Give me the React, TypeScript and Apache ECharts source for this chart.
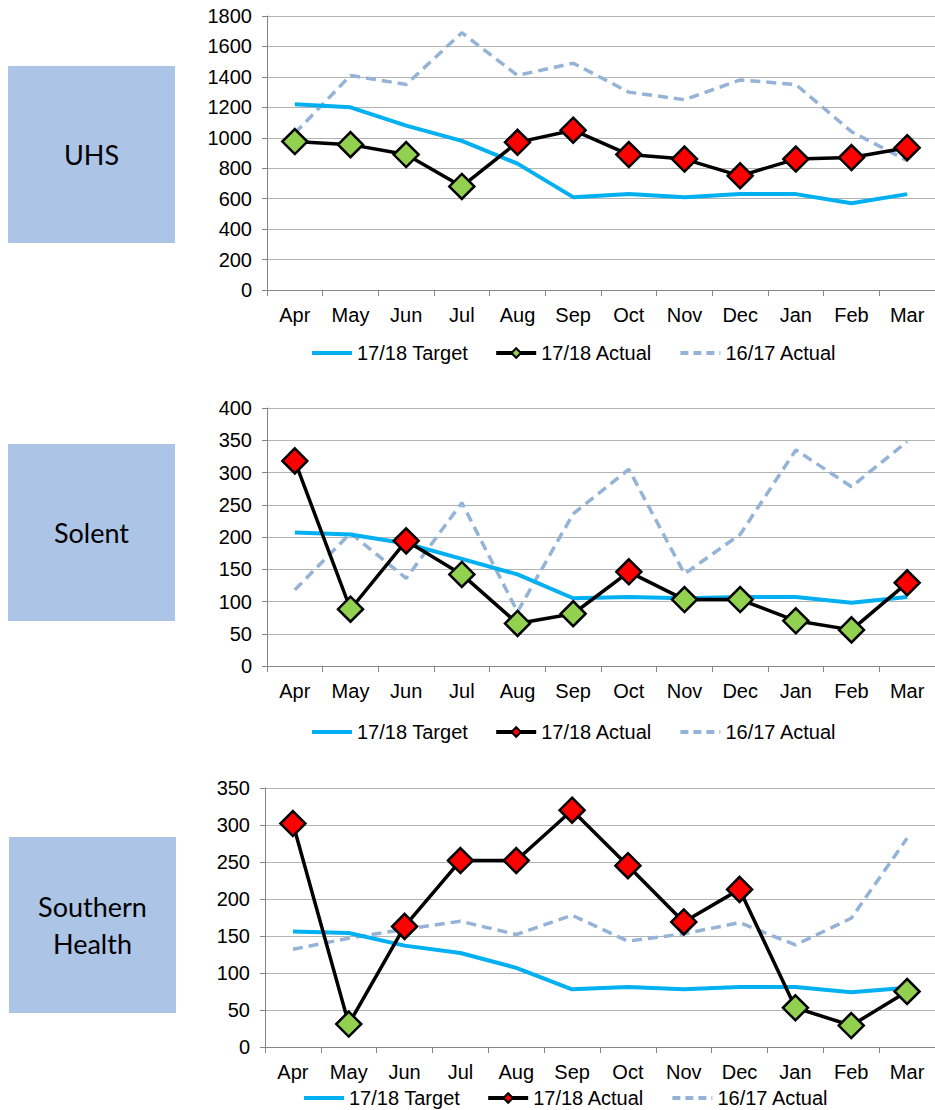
import React, { useEffect, useRef } from "react";
import * as echarts from "echarts";

const months = ["Apr", "May", "Jun", "Jul", "Aug", "Sep", "Oct", "Nov", "Dec", "Jan", "Feb", "Mar"];
const seriesNames = ["17/18 Target", "17/18 Actual", "16/17 Actual"];

const uhsTarget = [1220, 1200, 1080, 980, 830, 610, 630, 610, 630, 630, 570, 630];
const uhsActual = [975, 955, 890, 680, 970, 1050, 890, 860, 750, 860, 870, 935];
const uhsPrev = [1030, 1410, 1350, 1690, 1410, 1490, 1300, 1250, 1380, 1350, 1040, 850];

const solentTarget = [207, 204, 190, 166, 142, 105, 107, 105, 107, 107, 98, 107];
const solentActual = [318, 88, 194, 142, 66, 81, 146, 103, 103, 70, 56, 129];
const solentPrev = [118, 206, 136, 253, 84, 236, 305, 143, 204, 335, 278, 348];

const shTarget = [156, 154, 137, 127, 107, 78, 81, 78, 81, 81, 74, 80];
const shActual = [302, 31, 163, 252, 252, 320, 245, 169, 213, 53, 29, 75];
const shPrev = [132, 147, 159, 170, 152, 178, 143, 153, 168, 138, 174, 282];

const orgNames = ["UHS", "Solent", "Southern\nHealth"];
const yMax = [1800, 400, 350];
const yInterval = [200, 50, 50];

const GREEN = "#92d050";
const RED = "#ff0000";
const FONT = "'Liberation Sans', Arial, sans-serif";

export default function App() {
  const ref = useRef<HTMLDivElement>(null);

  useEffect(() => {
    if (!ref.current) return;
    const chart = echarts.init(ref.current, undefined, { renderer: "svg" });

    const datasets = [
      { target: uhsTarget, actual: uhsActual, prev: uhsPrev },
      { target: solentTarget, actual: solentActual, prev: solentPrev },
      { target: shTarget, actual: shActual, prev: shPrev },
    ];

    const grids = [
      { left: 267, top: 16, width: 668, height: 274 },
      { left: 267, top: 408, width: 668, height: 258 },
      { left: 265, top: 788, width: 670, height: 259 },
    ];
    const legendPos = [
      { left: 310, top: 343 },
      { left: 310, top: 722 },
      { left: 302, top: 1088 },
    ];
    const boxes = [
      { x: 8, y: 66, w: 167, h: 177 },
      { x: 8, y: 444, w: 167, h: 177 },
      { x: 9, y: 837, w: 167, h: 176 },
    ];

    const xAxis: any[] = [];
    const yAxis: any[] = [];
    const series: any[] = [];
    const legend: any[] = [];
    const graphic: any[] = [];

    datasets.forEach((d, i) => {
      xAxis.push({
        type: "category",
        gridIndex: i,
        data: months,
        boundaryGap: true,
        axisLine: { show: true, lineStyle: { color: "#868686", width: 1 } },
        axisTick: { show: true, length: 6, lineStyle: { color: "#868686" } },
        axisLabel: { color: "#000", fontSize: 20, fontFamily: FONT, margin: 15 },
        splitLine: { show: false },
      });
      yAxis.push({
        type: "value",
        gridIndex: i,
        min: 0,
        max: yMax[i],
        interval: yInterval[i],
        axisLine: { show: true, lineStyle: { color: "#868686", width: 1 } },
        axisTick: { show: true, length: 5, lineStyle: { color: "#868686" } },
        axisLabel: {
          color: "#000",
          fontSize: 20,
          fontFamily: FONT,
          margin: 15,
          formatter: (v: number) => String(v),
        },
        splitLine: { show: true, lineStyle: { color: "#b3b3b3", width: 1.2 } },
      });
      const pointColors = d.actual.map((v, k) => (v > d.target[k] ? RED : GREEN));
      series.push({
        name: seriesNames[2],
        type: "line",
        xAxisIndex: i,
        yAxisIndex: i,
        data: d.prev,
        symbol: "none",
        z: 1,
        lineStyle: { color: "#95b3d7", width: 3.5, type: [10, 6] },
        itemStyle: { color: "#95b3d7" },
      });
      series.push({
        name: seriesNames[0],
        type: "line",
        xAxisIndex: i,
        yAxisIndex: i,
        data: d.target,
        symbol: "none",
        z: 2,
        lineStyle: { color: "#00b0f0", width: 4 },
        itemStyle: { color: "#00b0f0" },
      });
      series.push({
        name: seriesNames[1],
        type: "line",
        xAxisIndex: i,
        yAxisIndex: i,
        data: d.actual.map((v, k) => ({ value: v, itemStyle: { color: pointColors[k] } })),
        symbol: "diamond",
        symbolSize: 25,
        z: 3,
        lineStyle: { color: "#000", width: 3.5 },
        itemStyle: { color: pointColors[0], borderColor: "#000", borderWidth: 2.5 },
      });
      legend.push({
        left: legendPos[i].left,
        top: legendPos[i].top,
        padding: 0,
        itemWidth: 40,
        itemHeight: 12,
        itemGap: 26,
        selectedMode: false,
        textStyle: { color: "#000", fontSize: 20, fontFamily: FONT },
        data: [
          {
            name: seriesNames[0],
            itemStyle: { color: "#00b0f0", opacity: 0 },
            lineStyle: { color: "#00b0f0", width: 4 },
          },
          {
            name: seriesNames[1],
            itemStyle: { color: pointColors[0], borderColor: "#000", borderWidth: 2 },
            lineStyle: { color: "#000", width: 4 },
          },
          {
            name: seriesNames[2],
            itemStyle: { color: "#95b3d7", opacity: 0 },
            lineStyle: { color: "#95b3d7", width: 4, type: [8, 5] },
          },
        ],
      });
      const b = boxes[i];
      graphic.push({
        type: "rect",
        shape: { x: b.x, y: b.y, width: b.w, height: b.h },
        style: { fill: "#acc4e6" },
        silent: true,
      });
      graphic.push({
        type: "text",
        x: b.x + b.w / 2,
        y: b.y + b.h / 2,
        style: {
          text: orgNames[i],
          align: "center",
          verticalAlign: "middle",
          fontSize: 27,
          lineHeight: 37,
          fontFamily: "Lato, 'Open Sans', sans-serif",
          fill: "#000",
        },
        silent: true,
      });
    });

    chart.setOption({
      animation: false,
      backgroundColor: "#ffffff",
      grid: grids,
      xAxis,
      yAxis,
      series,
      legend,
      graphic,
    });

    return () => chart.dispose();
  }, []);

  return (
    <div
      ref={ref}
      style={{ position: "absolute", left: 0, top: 0, width: 935, height: 1110 }}
    />
  );
}
